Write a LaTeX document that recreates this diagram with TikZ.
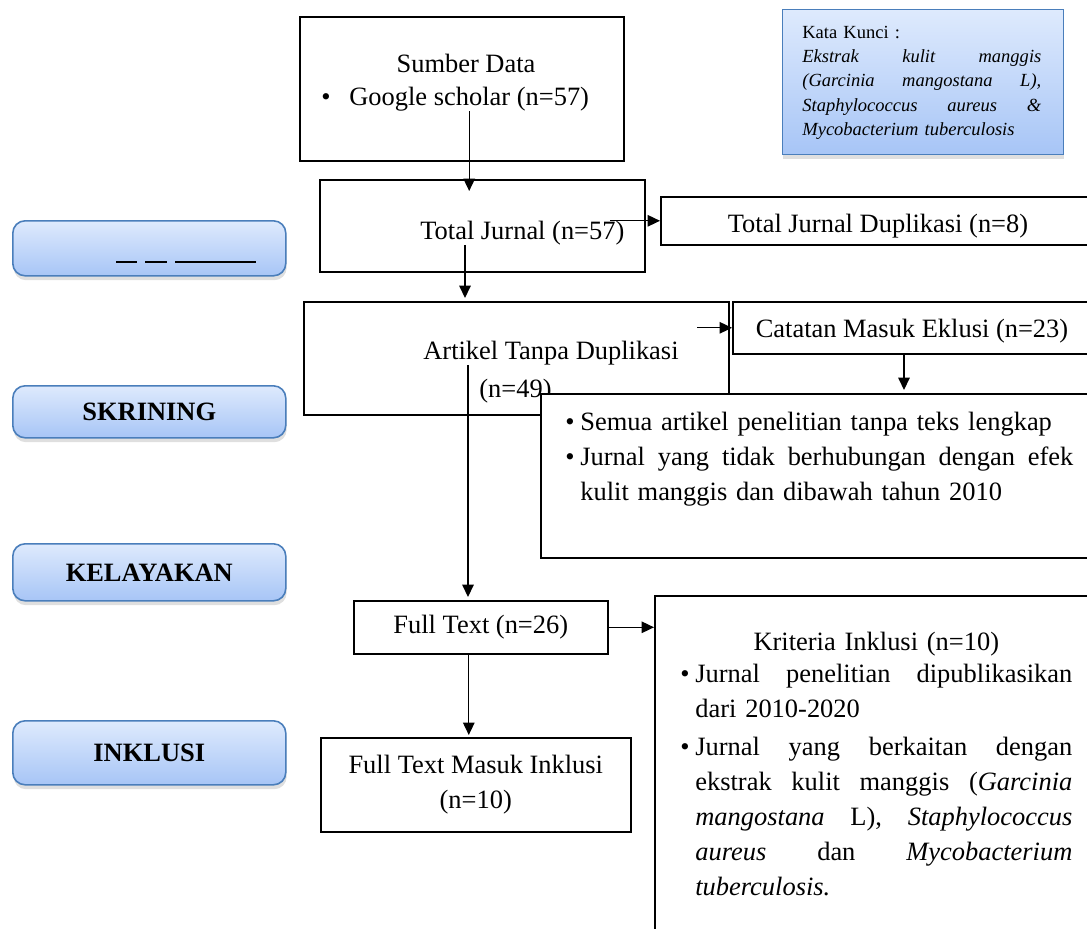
\documentclass[tikz,border=0pt]{standalone}
\usepackage{fontspec}
\setmainfont{Liberation Serif}
\usetikzlibrary{arrows.meta,positioning,shadows}
\definecolor{phaseblue}{HTML}{4A7EBB}
\definecolor{phasetop}{HTML}{DEEAFD}
\definecolor{phasebot}{HTML}{A7C5F6}
\newlength{\pxu}
\setlength{\pxu}{0.5671pt}
\newlength{\bind}
\setlength{\bind}{15\pxu}
\newcommand{\mainsize}{\fontsize{15}{19.85}\selectfont}
\newcommand{\katasize}{\fontsize{10.5}{13.8}\selectfont}
% justified / left lines, with and without bullet
\newcommand{\stretchsp}{\spaceskip=.25em plus 1fil\relax}
\newcommand{\jstline}[1]{\hbox to \hsize{\stretchsp #1}}
\newcommand{\lftline}[1]{\hbox{#1}}
\newcommand{\bjst}[1]{\hbox to \hsize{\stretchsp\hbox to \bind{\textbullet\hss}#1}}
\newcommand{\blft}[1]{\hbox{\hbox to \bind{\textbullet\hss}#1}}
\newcommand{\cjst}[1]{\hbox to \hsize{\stretchsp\kern\bind #1}}
\newcommand{\clft}[1]{\hbox{\kern\bind #1}}

\begin{document}
\begin{tikzpicture}[
  x=\pxu, y=-\pxu,
  box/.style={draw, line width=0.9pt, rectangle, inner sep=0pt, anchor=north west},
  phase/.style={draw=phaseblue, line width=0.9pt, rounded corners=7pt,
                top color=phasetop, bottom color=phasebot, anchor=north west,
                minimum width=273\pxu, font=\fontsize{15}{18}\selectfont\bfseries,
                drop shadow={shadow xshift=0.5pt, shadow yshift=-2.5pt, opacity=0.25}},
  txt/.style={inner sep=0pt, font=\mainsize},
  arr/.style={-{Triangle[length=7pt,width=6.5pt]}, line width=0.75pt}
]
  \useasboundingbox (0,0) rectangle (1087,928);
  \begin{scope}
  \clip (0,0) rectangle (1087,928);

  %% Phase labels on the left
  \node[phase, minimum height=55\pxu] (identifikasi) at (12,220) {};
  \draw[line width=1.1pt] (116,262) -- (137,262) (145,262) -- (167,262) (175,262) -- (256,262);
  \node[phase, minimum height=52\pxu] (skrining) at (12,385) {SKRINING};
  \node[phase, minimum height=57\pxu] (kelayakan) at (12,543) {KELAYAKAN};
  \node[phase, minimum height=64\pxu] (inklusi) at (12,720) {INKLUSI};

  %% Keywords
  \node[box, draw=phaseblue, line width=0.6pt, top color=phasetop, bottom color=phasebot,
        drop shadow={shadow xshift=0.5pt, shadow yshift=-2.5pt, opacity=0.25},
        minimum width=281\pxu, minimum height=145\pxu] (katakunci) at (782,9) {};
  \node[txt, anchor=base west, text width=239\pxu, font=\katasize] (katatxt) at (802,38) {%
    \lftline{Kata Kunci :}
    \jstline{\itshape Ekstrak kulit manggis}
    \jstline{\itshape (Garcinia mangostana L),}
    \jstline{\itshape Staphylococcus aureus \&}
    \lftline{\itshape Mycobacterium tuberculosis}};

  %% Identification
  \node[box, minimum width=324\pxu, minimum height=144\pxu] (sumber) at (299,16) {};
  \node[txt, anchor=base] (sumbertxt) at (466,72) {Sumber Data};
  \node[txt, anchor=base west] (gsbul) at (321,105) {\textbullet};
  \node[txt, anchor=base west] (gs) at (349,105) {Google scholar (n=57)};

  \node[box, minimum width=325\pxu, minimum height=92\pxu] (total) at (319,179) {};
  \node[txt, anchor=base west] (totaltxt) at (420,239) {Total Jurnal (n=57)};
  \node[box, minimum width=440\pxu, minimum height=48\pxu] (dup) at (660,196) {};
  \node[txt, anchor=base] (duptxt) at (878,232) {Total Jurnal Duplikasi (n=8)};

  %% Screening
  \node[box, minimum width=425\pxu, minimum height=113\pxu] (artikel) at (303,301) {};
  \node[txt, anchor=base west] (artikeltxt) at (423,359) {Artikel Tanpa Duplikasi};
  \node[txt, anchor=base west] (artikeln) at (479,397) {(n=49)};
  \node[box, minimum width=368\pxu, minimum height=52\pxu] (catatan) at (732,301) {};
  \node[txt, anchor=base] (catatantxt) at (912,337) {Catatan Masuk Eklusi (n=23)};
  \node[box, fill=white, minimum width=560\pxu, minimum height=164\pxu] (eksklusi) at (540,393) {};
  \node[txt, anchor=base west, text width=508\pxu] (eksklusitxt) at (565,430) {%
    \blft{Semua artikel penelitian tanpa teks lengkap}
    \bjst{Jurnal yang tidak berhubungan dengan efek}
    \clft{kulit manggis dan dibawah tahun 2010}};

  %% Eligibility and inclusion
  \node[box, minimum width=254\pxu, minimum height=53\pxu, font=\mainsize] (fulltext) at (353,600) {Full Text (n=26)};
  \node[box, minimum width=446\pxu, minimum height=345\pxu] (kriteria) at (654,595) {};
  \node[txt, anchor=base west, text width=392\pxu] (kriteriatxt) at (680,650) {%
    \hbox to \hsize{\hss Kriteria Inklusi (n=10)\hss}
    \vskip-3\pxu
    \bjst{Jurnal penelitian dipublikasikan}
    \clft{dari 2010-2020}
    \vskip3\pxu
    \bjst{Jurnal yang berkaitan dengan}
    \cjst{ekstrak kulit manggis (\textit{Garcinia}}
    \cjst{\textit{mangostana} L), \textit{Staphylococcus}}
    \cjst{\textit{aureus} dan \textit{Mycobacterium}}
    \clft{\textit{tuberculosis.}}};
  \node[box, minimum width=310\pxu, minimum height=94\pxu, font=\mainsize, align=center] (ftmi) at (320,737)
    {Full Text Masuk Inklusi\\(n=10)};

  %% Connectors
  \coordinate (tj) at ([xshift=45\pxu]totaltxt.south west);
  \coordinate (td) at ([xshift=-50\pxu]dup.west);
  \coordinate (ad) at ([xshift=45\pxu]artikeltxt.south west);
  \coordinate (ac) at ([xshift=-35\pxu]catatan.west);
  \coordinate (ce) at ([xshift=-8\pxu]catatantxt.south);
  \coordinate (fd) at ([xshift=-12\pxu]fulltext.south);

  \draw[arr, shorten >=-12\pxu] (gs.south) -- (gs.south |- total.north);
  \draw[arr] (td) -- (dup.west);
  \draw[arr, shorten >=3\pxu] (tj) -- (tj |- artikel.north);
  \draw[arr] (ac) -- (catatan.west);
  \draw[arr, shorten >=3\pxu] (ce |- catatan.south) -- (ce |- eksklusi.north);
  \draw[arr, shorten >=3\pxu] (ad) -- (ad |- fulltext.north);
  \draw[arr] (fulltext.east) -- (fulltext.east -| kriteria.west);
  \draw[arr, shorten >=2\pxu] (fd) -- (fd |- ftmi.north);
  \end{scope}
\end{tikzpicture}
\end{document}
